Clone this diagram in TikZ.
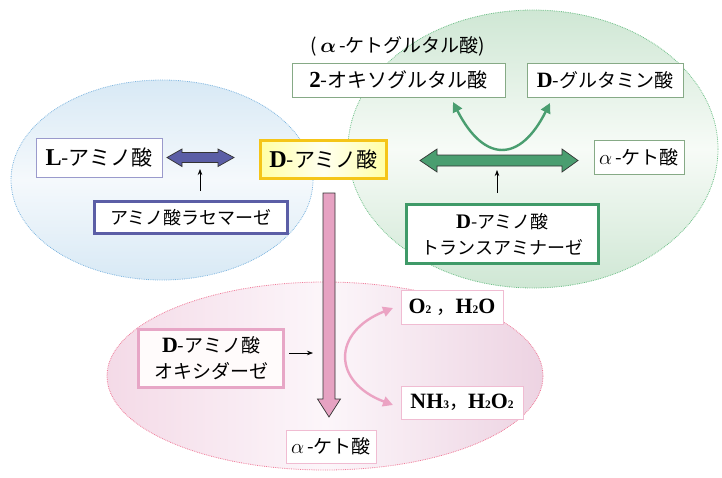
\documentclass[tikz,border=0pt]{standalone}
\usepackage{fontspec}
\setmainfont{Liberation Serif}[Scale=1.15]
\newfontfamily\jp{Noto Sans CJK JP}
\usetikzlibrary{arrows.meta}
\definecolor{blueE}{HTML}{7FB6E0}
\definecolor{greenE}{HTML}{6CBF86}
\definecolor{pinkE}{HTML}{F07A98}
\definecolor{slate}{HTML}{5B5EA6}
\definecolor{lslate}{HTML}{9A9ACC}
\definecolor{ybord}{HTML}{F5C518}
\definecolor{gthin}{HTML}{86AA86}
\definecolor{gthick}{HTML}{3F9A68}
\definecolor{garrow}{HTML}{4A9E70}
\definecolor{pthick}{HTML}{E7A6C6}
\definecolor{pthin}{HTML}{F0BCD2}
\definecolor{parrow}{HTML}{E6A2C2}
\definecolor{pcurve}{HTML}{EBA3C3}
\definecolor{blueF}{HTML}{D8E9F5}
\definecolor{blueM}{HTML}{F5F9FC}
\definecolor{greenF}{HTML}{CFE7D4}
\definecolor{greenM}{HTML}{F7FBF7}
\definecolor{pinkL}{HTML}{F4DAE7}
\definecolor{pinkR}{HTML}{EDD3E2}
\definecolor{pinkM}{HTML}{FCF6FA}
\tikzset{
  box/.style={draw, fill=white, inner sep=0pt, align=center},
  thinbox/.style={box, line width=0.9pt},
  thickbox/.style={box, line width=3pt},
  smallarr/.style={-{Stealth[length=6pt,width=4.5pt]}, line width=0.7pt},
  curvearr/.style={line width=2.4pt, {Triangle[length=10pt,width=10pt]}-{Triangle[length=10pt,width=10pt]}},
}
\newcommand{\Bd}[1]{{\rmfamily\bfseries #1}}
\newcommand{\sub}[1]{{\fontsize{10}{11}\selectfont #1}}
\newcommand{\al}{{\fontsize{22}{24}\selectfont$\alpha$}}
\begin{document}
\begin{tikzpicture}[x=1pt,y=-1pt]
\useasboundingbox (0,0) rectangle (722,477);
% ellipses
\shade[top color=blueF, bottom color=blueF, middle color=blueM]
  (162,180) ellipse [x radius=151, y radius=100];
\draw[blueE, densely dotted, line width=0.8pt] (162,180) ellipse [x radius=151, y radius=100];
\shade[top color=greenF, bottom color=greenF, middle color=greenM]
  (533,149) ellipse [x radius=185, y radius=139];
\draw[greenE, densely dotted, line width=0.8pt] (533,149) ellipse [x radius=185, y radius=139];
\shade[left color=pinkL, right color=pinkR, middle color=pinkM]
  (325,376) ellipse [x radius=218, y radius=94];
\draw[pinkE, densely dotted, line width=0.8pt] (325,376) ellipse [x radius=218, y radius=94];

% left part
\node[thinbox, draw=lslate, minimum width=126pt, minimum height=39pt, font=\jp\fontsize{21}{24}\selectfont] (L) at (99,157.5) {\Bd{L}-アミノ酸};
\node[thickbox, draw=ybord, left color=yellow!35!white, right color=yellow!35!white, middle color=yellow!6!white, minimum width=126pt, minimum height=38pt, font=\jp\fontsize{21}{24}\selectfont] (D) at (323.5,159.5) {\Bd{D}-アミノ酸};
\node[thickbox, draw=slate, minimum width=193pt, minimum height=32pt, font=\jp\fontsize{18}{22}\selectfont] (rac) at (191,217.5) {アミノ酸ラセマーゼ};
\draw[fill=slate, draw=black!80, line width=0.7pt]
  (167,157.5) -- (182,149) -- (182,152.5) -- (218,152.5) -- (218,149) -- (234,157.5)
  -- (218,166.5) -- (218,162.5) -- (182,162.5) -- (182,166.5) -- cycle;
\coordinate (r1) at (200,191);
\coordinate (r2) at (200,169);
\draw[smallarr] (r1) -- (r2);

% green part
\node[font=\jp\fontsize{19}{24}\selectfont] (akg) at (398,46) {(\,{\fontsize{22}{24}\selectfont\boldmath$\alpha$}\,-ケトグルタル酸)};
\node[thinbox, draw=gthin, minimum width=213pt, minimum height=34pt, font=\jp\fontsize{20}{24}\selectfont] (oxo) at (398.5,80) {\Bd{2}-オキソグルタル酸};
\node[thinbox, draw=gthin, minimum width=156pt, minimum height=34pt, font=\jp\fontsize{19}{24}\selectfont] (glu) at (605,80) {\Bd{D}-グルタミン酸};
\node[thinbox, draw=gthin, minimum width=90pt, minimum height=34pt, font=\jp\fontsize{19}{24}\selectfont] (ka1) at (639,157) {\al\,-ケト酸};
\node[thickbox, draw=gthick, minimum width=192pt, minimum height=59pt, font=\jp\fontsize{18}{26}\selectfont] (ta) at (502.5,234) {\Bd{D}-アミノ酸\\トランスアミナーゼ};
\draw[fill=garrow, draw=black!80, line width=0.7pt]
  (420,160.5) -- (437,149) -- (437,155) -- (562,155) -- (562,149) -- (578,160.5)
  -- (562,172) -- (562,166) -- (437,166) -- (437,172) -- cycle;
\coordinate (g1) at (453,102);
\coordinate (g2) at (550,103);
\draw[curvearr, garrow] (g1) .. controls (484,163) and (520,163) .. (g2);
\coordinate (t1) at (497,193);
\coordinate (t2) at (497,170);
\draw[smallarr] (t1) -- (t2);

% pink part
\draw[fill=parrow, draw=black!80, line width=0.7pt]
  (323,193) -- (335,193) -- (335,399) -- (340.5,399) -- (329,417) -- (317.5,399) -- (323,399) -- cycle;
\node[thickbox, draw=pthick, fill=white!94!pink, minimum width=145pt, minimum height=58pt, font=\jp\fontsize{19}{26}\selectfont] (ox) at (211,358.5) {\Bd{D}-アミノ酸\\オキシダーゼ};
\node[thinbox, draw=pthin, minimum width=102pt, minimum height=34pt, font=\fontsize{19}{22}\selectfont\bfseries] (o2) at (452,307) {O\sub{2}\ {\jp\mdseries ，}H\sub{2}O};
\node[thinbox, draw=pthin, minimum width=122pt, minimum height=33pt, font=\fontsize{19}{22}\selectfont\bfseries] (nh) at (462,402.5) {NH\sub{3}{\jp\mdseries ，}H\sub{2}O\sub{2}};
\node[thinbox, draw=pthin, minimum width=90pt, minimum height=33pt, font=\jp\fontsize{19}{24}\selectfont] (ka2) at (331,446.5) {\al\,-ケト酸};
\coordinate (p1) at (393,308);
\coordinate (p2) at (393,405);
\draw[curvearr, pcurve] (p1) .. controls (332,332) and (332,382) .. (p2);
\coordinate (x1) at (289,353);
\coordinate (x2) at (313,353);
\draw[smallarr] (x1) -- (x2);
\end{tikzpicture}
\end{document}
